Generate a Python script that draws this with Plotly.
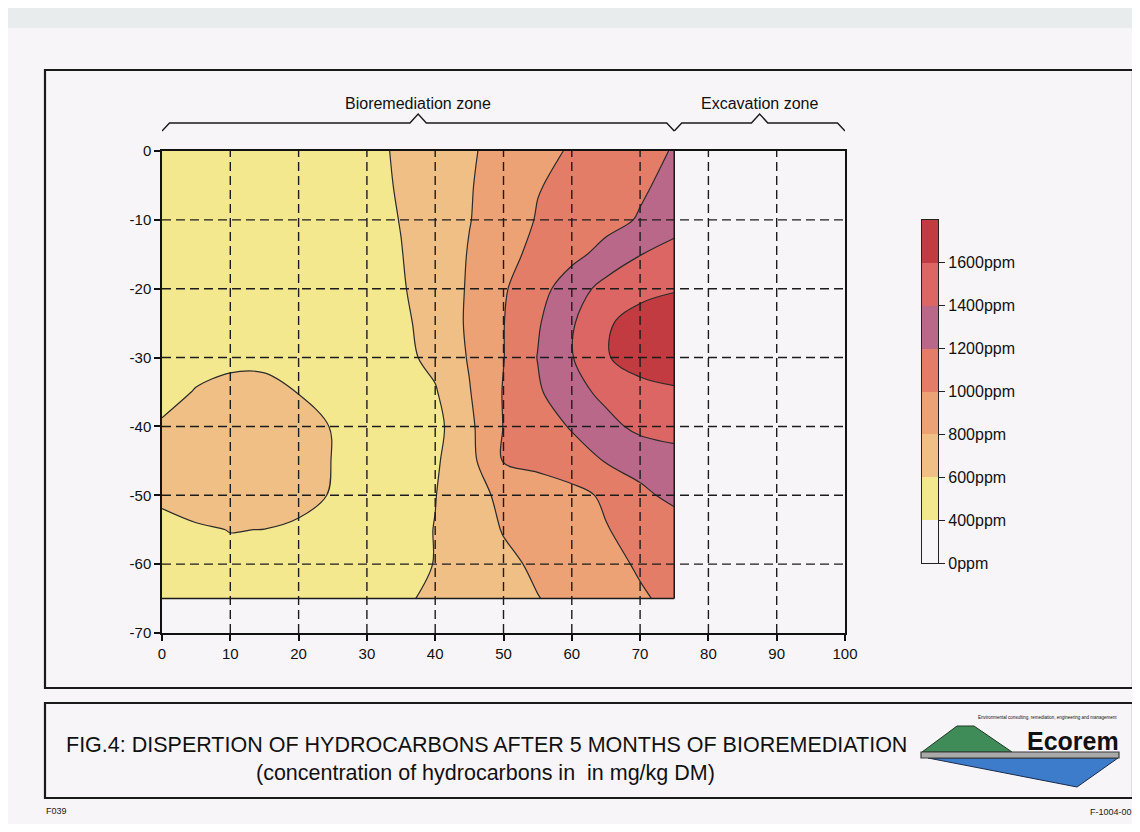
import plotly.graph_objects as go

# ---------------- data ----------------
x_vals = [0, 5, 10, 15, 20, 25, 30, 35, 40, 45, 50, 55, 60, 65, 70, 75]
y_vals = [0, -5, -10, -15, -20, -25, -30, -35, -40, -45, -50, -55, -60, -65]

# hydrocarbon concentration (mg/kg DM), one row per depth in y_vals
conc = [
    [500, 500, 500, 500, 500, 500, 560, 620, 710, 780, 860, 940, 1020, 1080, 1150, 1210],
    [500, 500, 500, 500, 500, 500, 550, 615, 710, 790, 870, 990, 1050, 1110, 1175, 1250],
    [500, 500, 500, 500, 500, 500, 540, 605, 700, 795, 880, 1015, 1080, 1140, 1215, 1320],
    [500, 500, 500, 500, 500, 500, 540, 595, 690, 810, 930, 1060, 1150, 1260, 1395, 1470],
    [500, 500, 500, 500, 500, 500, 530, 585, 680, 820, 980, 1130, 1300, 1470, 1540, 1585],
    [510, 510, 510, 510, 505, 500, 525, 570, 660, 830, 995, 1180, 1380, 1575, 1680, 1720],
    [560, 570, 560, 560, 565, 540, 520, 555, 645, 815, 995, 1205, 1390, 1585, 1690, 1730],
    [570, 605, 650, 650, 595, 545, 520, 530, 585, 790, 1010, 1175, 1330, 1450, 1530, 1570],
    [610, 680, 710, 710, 680, 590, 525, 530, 540, 760, 1005, 1110, 1215, 1340, 1450, 1500],
    [640, 700, 730, 720, 690, 595, 525, 530, 575, 740, 1010, 1060, 1120, 1210, 1260, 1300],
    [625, 690, 710, 700, 670, 585, 520, 530, 595, 730, 840, 880, 940, 1030, 1165, 1240],
    [560, 577, 604, 598, 564, 540, 520, 530, 605, 700, 810, 880, 940, 990, 1070, 1120],
    [520, 540, 560, 560, 550, 530, 520, 540, 605, 680, 760, 830, 890, 950, 1020, 1080],
    [510, 520, 530, 530, 525, 520, 530, 570, 640, 700, 750, 795, 850, 910, 980, 1040],
]

level_start, level_end, level_step = 400, 1600, 200
band_labels = ["0ppm", "400ppm", "600ppm", "800ppm", "1000ppm", "1200ppm", "1400ppm", "1600ppm"]
band_colors = ["#f8f5f8", "#f4e88e", "#efbf86", "#eca274", "#e47d68", "#b9688a", "#dc6663", "#c13b40"]

x_ticks = list(range(0, 101, 10))
y_ticks = list(range(-70, 1, 10))
x_tick_text = ["0", "10", "20", "30", "40", "50", "60", "70", "80", "90", "100"]
y_tick_text = ["-70", "-60", "-50", "-40", "-30", "-20", "-10", "0"]

zone_names = ["Bioremediation zone", "Excavation zone"]
zone_bounds = [(0, 75), (75, 100)]

title_line1 = "FIG.4: DISPERTION OF HYDROCARBONS AFTER 5 MONTHS OF BIOREMEDIATION"
title_line2 = "(concentration of hydrocarbons in  in mg/kg DM)"

# ---------------- layout helpers ----------------
OFF = 8                     # default page margin of the html body
W, H = 1126, 816
ML, MR, MT, MB = 154, 144, 143, 191
PW = W - ML - MR
PH = H - MT - MB
PAGE = "#f8f5f8"
ARIAL = "Liberation Sans, Arial, Helvetica, sans-serif"


def px(xs):
    """screen x pixel -> paper coordinate"""
    return (xs - OFF - ML) / PW


def py(ys):
    """screen y pixel -> paper coordinate"""
    return (H - MB - (ys - OFF)) / PH


n = len(band_colors)
cs_contour = []
for k, c in enumerate(band_colors):
    lo = 0 if k == 0 else (2 * k - 1) / (2 * (n - 1))
    hi = 1 if k == n - 1 else (2 * k + 1) / (2 * (n - 1))
    cs_contour += [[lo, c], [hi, c]]

cs_bar = []
for k, c in enumerate(band_colors):
    cs_bar += [[k / n, c], [(k + 1) / n, c]]

fig = go.Figure()

fig.add_trace(go.Contour(
    x=x_vals, y=y_vals, z=conc,
    contours=dict(start=level_start, end=level_end, size=level_step, coloring="fill", showlines=True),
    line=dict(color="#2b2b2b", width=1.2, smoothing=1.0),
    colorscale=cs_contour, showscale=False, hoverinfo="skip",
    xaxis="x", yaxis="y",
))

fig.add_trace(go.Heatmap(
    z=[[k] for k in range(n)], x=[0], y=list(range(n)),
    zmin=-0.5, zmax=n - 0.5, colorscale=cs_bar, showscale=False,
    hoverinfo="skip", xaxis="x2", yaxis="y2",
))

axis_font = dict(family=ARIAL, size=15, color="#111")

fig.update_layout(
    width=W, height=H,
    margin=dict(l=ML, r=MR, t=MT, b=MB),
    paper_bgcolor=PAGE, plot_bgcolor=PAGE,
    showlegend=False,
    xaxis=dict(domain=[0, px(845)], range=[0, 100], tickvals=x_ticks, ticktext=x_tick_text,
               ticks="outside", ticklen=6, tickwidth=1.5, tickcolor="#111", showline=True,
               linecolor="#111", linewidth=1.5, mirror=True, showgrid=False, zeroline=False,
               tickfont=axis_font, fixedrange=True),
    yaxis=dict(domain=[0, 1], range=[-70, 0], tickvals=y_ticks, ticktext=y_tick_text,
               ticks="outside", ticklen=6, tickwidth=1.5, tickcolor="#111", showline=True,
               linecolor="#111", linewidth=1.5, mirror=True, showgrid=False, zeroline=False,
               tickfont=axis_font, fixedrange=True),
    xaxis2=dict(domain=[px(922), px(938)], range=[-0.5, 0.5], showticklabels=False, ticks="",
                showline=True, linecolor="#222", linewidth=1.2, mirror=True, showgrid=False,
                zeroline=False, anchor="y2"),
    yaxis2=dict(domain=[py(563), py(220)], range=[-0.5, n - 0.5], side="right", anchor="x2",
                tickvals=[k - 0.5 for k in range(n)], ticktext=band_labels, ticks="outside",
                ticklen=6, tickwidth=1.2, tickcolor="#222", showline=True, linecolor="#222",
                linewidth=1.2, mirror=True, showgrid=False, zeroline=False,
                tickfont=dict(family=ARIAL, size=16, color="#111")),
)

shapes = []
# scanned paper strip
shapes.append(dict(type="rect", xref="paper", yref="paper", x0=px(0), x1=px(1200), y0=py(28), y1=py(8),
                   fillcolor="#e9ecec", line=dict(width=0), layer="below"))
# frames
shapes.append(dict(type="rect", xref="paper", yref="paper", x0=px(45), x1=px(1133), y0=py(688), y1=py(70),
                   line=dict(color="#1a1a1a", width=2.2)))
shapes.append(dict(type="rect", xref="paper", yref="paper", x0=px(45), x1=px(1133), y0=py(798), y1=py(703),
                   line=dict(color="#1a1a1a", width=2.2)))

# dashed grid drawn above the contour fill
for xv in x_ticks[1:-1]:
    shapes.append(dict(type="line", xref="x", yref="y", x0=xv, x1=xv, y0=y_ticks[0], y1=y_ticks[-1],
                       line=dict(color="#1c1c1c", width=1.4, dash="9px,5px"), layer="above"))
for yv in y_ticks[1:-1]:
    shapes.append(dict(type="line", xref="x", yref="y", x0=x_ticks[0], x1=x_ticks[-1], y0=yv, y1=yv,
                       line=dict(color="#1c1c1c", width=1.4, dash="9px,5px"), layer="above"))

# border of the surveyed area
xmin, xmax = min(x_vals), max(x_vals)
ymin, ymax = min(y_vals), max(y_vals)
shapes.append(dict(type="line", xref="x", yref="y", x0=xmin, x1=xmax, y0=ymin, y1=ymin,
                   line=dict(color="#1a1a1a", width=1.5)))
shapes.append(dict(type="line", xref="x", yref="y", x0=xmax, x1=xmax, y0=ymin, y1=ymax,
                   line=dict(color="#1a1a1a", width=1.5)))

# zone braces and labels
yb_end, yb_mid, yb_peak = py(131), py(123), py(114)
annotations = []
for name, (a, b) in zip(zone_names, zone_bounds):
    m = (a + b) / 2
    path = (f"M {a},{yb_end} L {a + 1.1},{yb_mid} L {m - 1.2},{yb_mid} L {m},{yb_peak} "
            f"L {m + 1.2},{yb_mid} L {b - 1.1},{yb_mid} L {b},{yb_end}")
    shapes.append(dict(type="path", xref="x", yref="paper", path=path,
                       line=dict(color="#1a1a1a", width=1.4)))
    annotations.append(dict(x=m, y=py(104), xref="x", yref="paper", text=name, showarrow=False,
                            font=dict(family=ARIAL, size=16, color="#111"),
                            xanchor="center", yanchor="middle"))


def ppath(points):
    return "M " + " L ".join(f"{px(a)},{py(b)}" for a, b in points) + " Z"


# logo
shapes.append(dict(type="path", xref="paper", yref="paper",
                   path=ppath([(922, 752), (957, 726), (974, 726), (1012, 752)]),
                   fillcolor="#3f8c58", line=dict(color="#1e3a26", width=1)))
shapes.append(dict(type="path", xref="paper", yref="paper",
                   path=ppath([(928, 758), (1118, 758), (1077, 787)]),
                   fillcolor="#3d7ccb", line=dict(color="#1b2a4a", width=1)))
shapes.append(dict(type="rect", xref="paper", yref="paper", x0=px(921), x1=px(1119), y0=py(758), y1=py(752),
                   fillcolor="#a9a9a9", line=dict(color="#3a3a3a", width=1.2)))

annotations += [
    dict(x=px(486), y=py(745), xref="paper", yref="paper", text=title_line1, showarrow=False,
         font=dict(family=ARIAL, size=21.5, color="#111"), xanchor="center", yanchor="middle"),
    dict(x=px(485), y=py(773), xref="paper", yref="paper", text=title_line2, showarrow=False,
         font=dict(family=ARIAL, size=21.5, color="#111"), xanchor="center", yanchor="middle"),
    dict(x=px(1121), y=py(741), xref="paper", yref="paper", text="<b>Ecorem</b>", showarrow=False,
         font=dict(family=ARIAL, size=25, color="#111"), xanchor="right", yanchor="middle"),
    dict(x=px(1119), y=py(717), xref="paper", yref="paper",
         text="Environmental consulting, remediation, engineering and management", showarrow=False,
         font=dict(family=ARIAL, size=4.5, color="#111"), xanchor="right", yanchor="middle"),
    dict(x=px(44), y=py(811), xref="paper", yref="paper", text="F039", showarrow=False,
         font=dict(family=ARIAL, size=9, color="#222"), xanchor="left", yanchor="middle"),
    dict(x=px(1134), y=py(812), xref="paper", yref="paper", text="F-1004-00", showarrow=False,
         font=dict(family=ARIAL, size=9, color="#222"), xanchor="right", yanchor="middle"),
]

fig.update_layout(shapes=shapes, annotations=annotations)
fig.write_html("out.html")
